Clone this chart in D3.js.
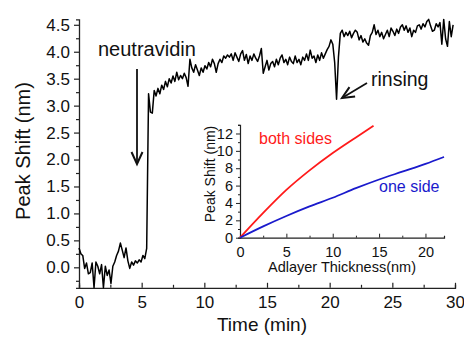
<!DOCTYPE html>
<html><head><meta charset="utf-8">
<script src="https://cdn.jsdelivr.net/npm/d3@7"></script>
<style>
html,body{margin:0;padding:0;background:#fff;}
svg{display:block;font-family:"Liberation Sans",Arial,sans-serif;}
</style></head>
<body><svg id="c" width="464" height="340"></svg>
<script>
// ---- main series: peak shift (nm) sampled every timeStep minutes from t=0
const timeStep = 0.15;
const shiftValues = [
0.36,0.25,0.22,-0.02,0.08,-0.12,-0.10,0.08,-0.38,0.10,
0.02,-0.12,0.05,-0.38,0.02,-0.15,-0.05,-0.30,0.02,0.10,
0.22,0.30,0.45,0.32,0.18,0.36,0.12,-0.02,0.10,0.04,
0.12,0.08,0.14,0.10,0.22,0.16,0.35,3.22,2.88,2.86,
3.28,3.18,3.32,3.22,3.38,3.30,3.45,3.35,3.50,3.42,
3.55,3.45,3.62,3.48,3.56,3.50,3.60,3.52,3.36,3.86,
3.70,3.62,3.76,3.66,3.56,3.70,3.62,3.74,3.68,3.80,
3.72,3.86,3.78,3.62,3.78,3.86,3.80,3.92,3.88,3.94,
3.90,3.96,3.84,3.98,3.90,3.82,3.96,4.02,3.84,3.95,
3.78,3.92,3.84,3.96,3.88,3.82,3.92,4.06,3.60,3.72,
3.84,3.66,3.78,3.82,3.72,3.86,3.76,3.88,3.94,3.80,
3.86,3.76,3.90,3.82,3.78,3.92,3.80,3.86,3.76,3.90,
3.84,3.96,3.84,4.03,3.88,3.92,3.80,3.94,3.84,3.98,
3.88,3.96,4.04,4.10,4.22,4.14,3.80,3.12,3.90,4.34,
4.40,4.28,4.36,4.30,4.38,4.26,4.34,4.40,4.36,4.22,
4.30,4.18,4.24,4.16,4.12,4.30,4.36,4.50,4.32,4.40,
4.28,4.36,4.24,4.32,4.40,4.28,4.44,4.38,4.30,4.42,
4.34,4.46,4.50,4.40,4.48,4.36,4.44,4.28,4.40,4.36,
4.48,4.50,4.42,4.52,4.46,4.56,4.60,4.48,4.38,4.40,
4.52,4.46,4.54,4.14,4.60,4.24,4.10,4.56,4.28,4.50
];
const xTickValues = [0,5,10,15,20,25,30];
const yTickValues = [0.0,0.5,1.0,1.5,2.0,2.5,3.0,3.5,4.0,4.5];

// ---- inset series
const thickBoth = [0,2.5,5,7.5,10,12.5,14.4];
const shiftBoth = [0,2.85,5.5,7.75,9.75,11.55,12.9];
const thickOne = [0,2.5,5,7.5,10,12.5,15,17.5,20,22];
const shiftOne = [0,1.3,2.5,3.6,4.6,5.7,6.7,7.6,8.5,9.3];
const insetXTicks = [0,5,10,15,20];
const insetYTicks = [0,2,4,6,8,10,12];

const svg = d3.select("#c");

// ===== main chart =====
const x = d3.scaleLinear().domain([0,30]).range([79,455]);
const y = d3.scaleLinear().domain([-0.38,4.6]).range([287.8,19.4]);

const data = shiftValues.map((v,i)=>({t:i*timeStep, v}));

// axes
const gx = svg.append("g").attr("transform",`translate(0,${y(-0.38)})`);
gx.call(d3.axisBottom(x).tickValues(d3.range(0,30.01,2.5)).tickSize(-3).tickFormat(""));
gx.call(g=>g.selectAll(".tick line").attr("y2",d=> d%5===0 ? -5 : -3));
const gxl = svg.append("g").attr("transform",`translate(0,${y(-0.38)})`);
gxl.call(d3.axisBottom(x).tickValues(xTickValues).tickSize(0).tickPadding(8).tickFormat(d3.format("d")));
gxl.select(".domain").remove();

const gy = svg.append("g").attr("transform",`translate(${x(0)},0)`);
gy.call(d3.axisLeft(y).tickValues(d3.range(-0.25,4.6,0.25)).tickSize(3).tickFormat(""));
gy.call(g=>g.selectAll(".tick line").attr("x2",d=> Math.abs(d*2-Math.round(d*2))<1e-6 ? -5 : -3));
const gyl = svg.append("g").attr("transform",`translate(${x(0)},0)`);
gyl.call(d3.axisLeft(y).tickValues(yTickValues).tickSize(0).tickPadding(9).tickFormat(d3.format(".1f")));
gyl.select(".domain").remove();

svg.selectAll(".domain").attr("stroke","#222").attr("stroke-width",1.3);
svg.selectAll(".tick line").attr("stroke","#222").attr("stroke-width",1.2);
svg.selectAll(".tick text").attr("font-size",17).attr("fill","#111").attr("font-family","Liberation Sans, Arial, sans-serif");

// line
svg.append("path").datum(data)
  .attr("fill","none").attr("stroke","#000").attr("stroke-width",1.5).attr("stroke-linejoin","round")
  .attr("d", d3.line().x(d=>x(d.t)).y(d=>y(d.v)));

// titles
svg.append("text").attr("x",262).attr("y",331).attr("text-anchor","middle")
  .attr("font-size",19).attr("fill","#111").text("Time (min)");
svg.append("text").attr("transform","translate(30,151) rotate(-90)").attr("text-anchor","middle")
  .attr("font-size",20).attr("fill","#111").text("Peak Shift (nm)");

// annotations
svg.append("text").attr("x",98).attr("y",56).attr("font-size",20).attr("fill","#111").text("neutravidin");
svg.append("text").attr("x",371).attr("y",86).attr("font-size",19.5).attr("fill","#111").text("rinsing");

function arrow(x1,y1,x2,y2,len,half){
  const a = Math.atan2(y2-y1,x2-x1);
  svg.append("line").attr("x1",x1).attr("y1",y1).attr("x2",x2).attr("y2",y2)
    .attr("stroke","#111").attr("stroke-width",1.8);
  const p1=[x2-len*Math.cos(a)+half*Math.sin(a), y2-len*Math.sin(a)-half*Math.cos(a)];
  const p2=[x2-len*Math.cos(a)-half*Math.sin(a), y2-len*Math.sin(a)+half*Math.cos(a)];
  svg.append("path").attr("d",`M${p1}L${x2},${y2}L${p2}`).attr("fill","none")
    .attr("stroke","#111").attr("stroke-width",2).attr("stroke-linejoin","miter");
}
arrow(137,69,137,164,12,5.5);
arrow(367,83,342,98,12,5.5);

// ===== inset =====
const ix = d3.scaleLinear().domain([0,22]).range([240,444]);
const iy = d3.scaleLinear().domain([0,13]).range([237.7,124.8]);

const ig = svg.append("g");
const igx = ig.append("g").attr("transform",`translate(0,${iy(0)})`);
igx.call(d3.axisBottom(ix).tickValues(d3.range(0,22.01,2.5)).tickSize(-2).tickFormat(""));
igx.call(g=>g.selectAll(".tick line").attr("y2",d=> d%5===0 ? -4 : -2));
const igxl = ig.append("g").attr("transform",`translate(0,${iy(0)})`);
igxl.call(d3.axisBottom(ix).tickValues(insetXTicks).tickSize(0).tickPadding(9).tickFormat(d3.format("d")));
igxl.select(".domain").remove();

const igy = ig.append("g").attr("transform",`translate(${ix(0)},0)`);
igy.call(d3.axisLeft(iy).tickValues(d3.range(0,13.01,1)).tickSize(2).tickFormat(""));
igy.call(g=>g.selectAll(".tick line").attr("x2",d=> d%2===0 ? -4 : -2));
const igyl = ig.append("g").attr("transform",`translate(${ix(0)},0)`);
igyl.call(d3.axisLeft(iy).tickValues(insetYTicks).tickSize(0).tickPadding(7).tickFormat(d3.format("d")));
igyl.select(".domain").remove();

ig.selectAll(".domain").attr("stroke","#222").attr("stroke-width",1.2);
ig.selectAll(".tick line").attr("stroke","#222").attr("stroke-width",1);
ig.selectAll(".tick text").attr("font-size",14.5).attr("fill","#111").attr("font-family","Liberation Sans, Arial, sans-serif");

const iline = d3.line().curve(d3.curveMonotoneX);
ig.append("path").attr("fill","none").attr("stroke","#ff1a1a").attr("stroke-width",1.8)
  .attr("d", iline(thickBoth.map((t,i)=>[ix(t),iy(shiftBoth[i])])));
ig.append("path").attr("fill","none").attr("stroke","#1a1acc").attr("stroke-width",1.8)
  .attr("d", iline(thickOne.map((t,i)=>[ix(t),iy(shiftOne[i])])));

ig.append("text").attr("x",259).attr("y",144).attr("font-size",16).attr("fill","#ff1a1a").text("both sides");
ig.append("text").attr("x",379).attr("y",192).attr("font-size",16).attr("fill","#1a1acc").text("one side");
ig.append("text").attr("x",342).attr("y",272).attr("text-anchor","middle").attr("font-size",14.5).attr("fill","#111").text("Adlayer Thickness(nm)");
ig.append("text").attr("transform","translate(215,174) rotate(-90)").attr("text-anchor","middle")
  .attr("font-size",14).attr("fill","#111").text("Peak Shift (nm)");
</script></body></html>
